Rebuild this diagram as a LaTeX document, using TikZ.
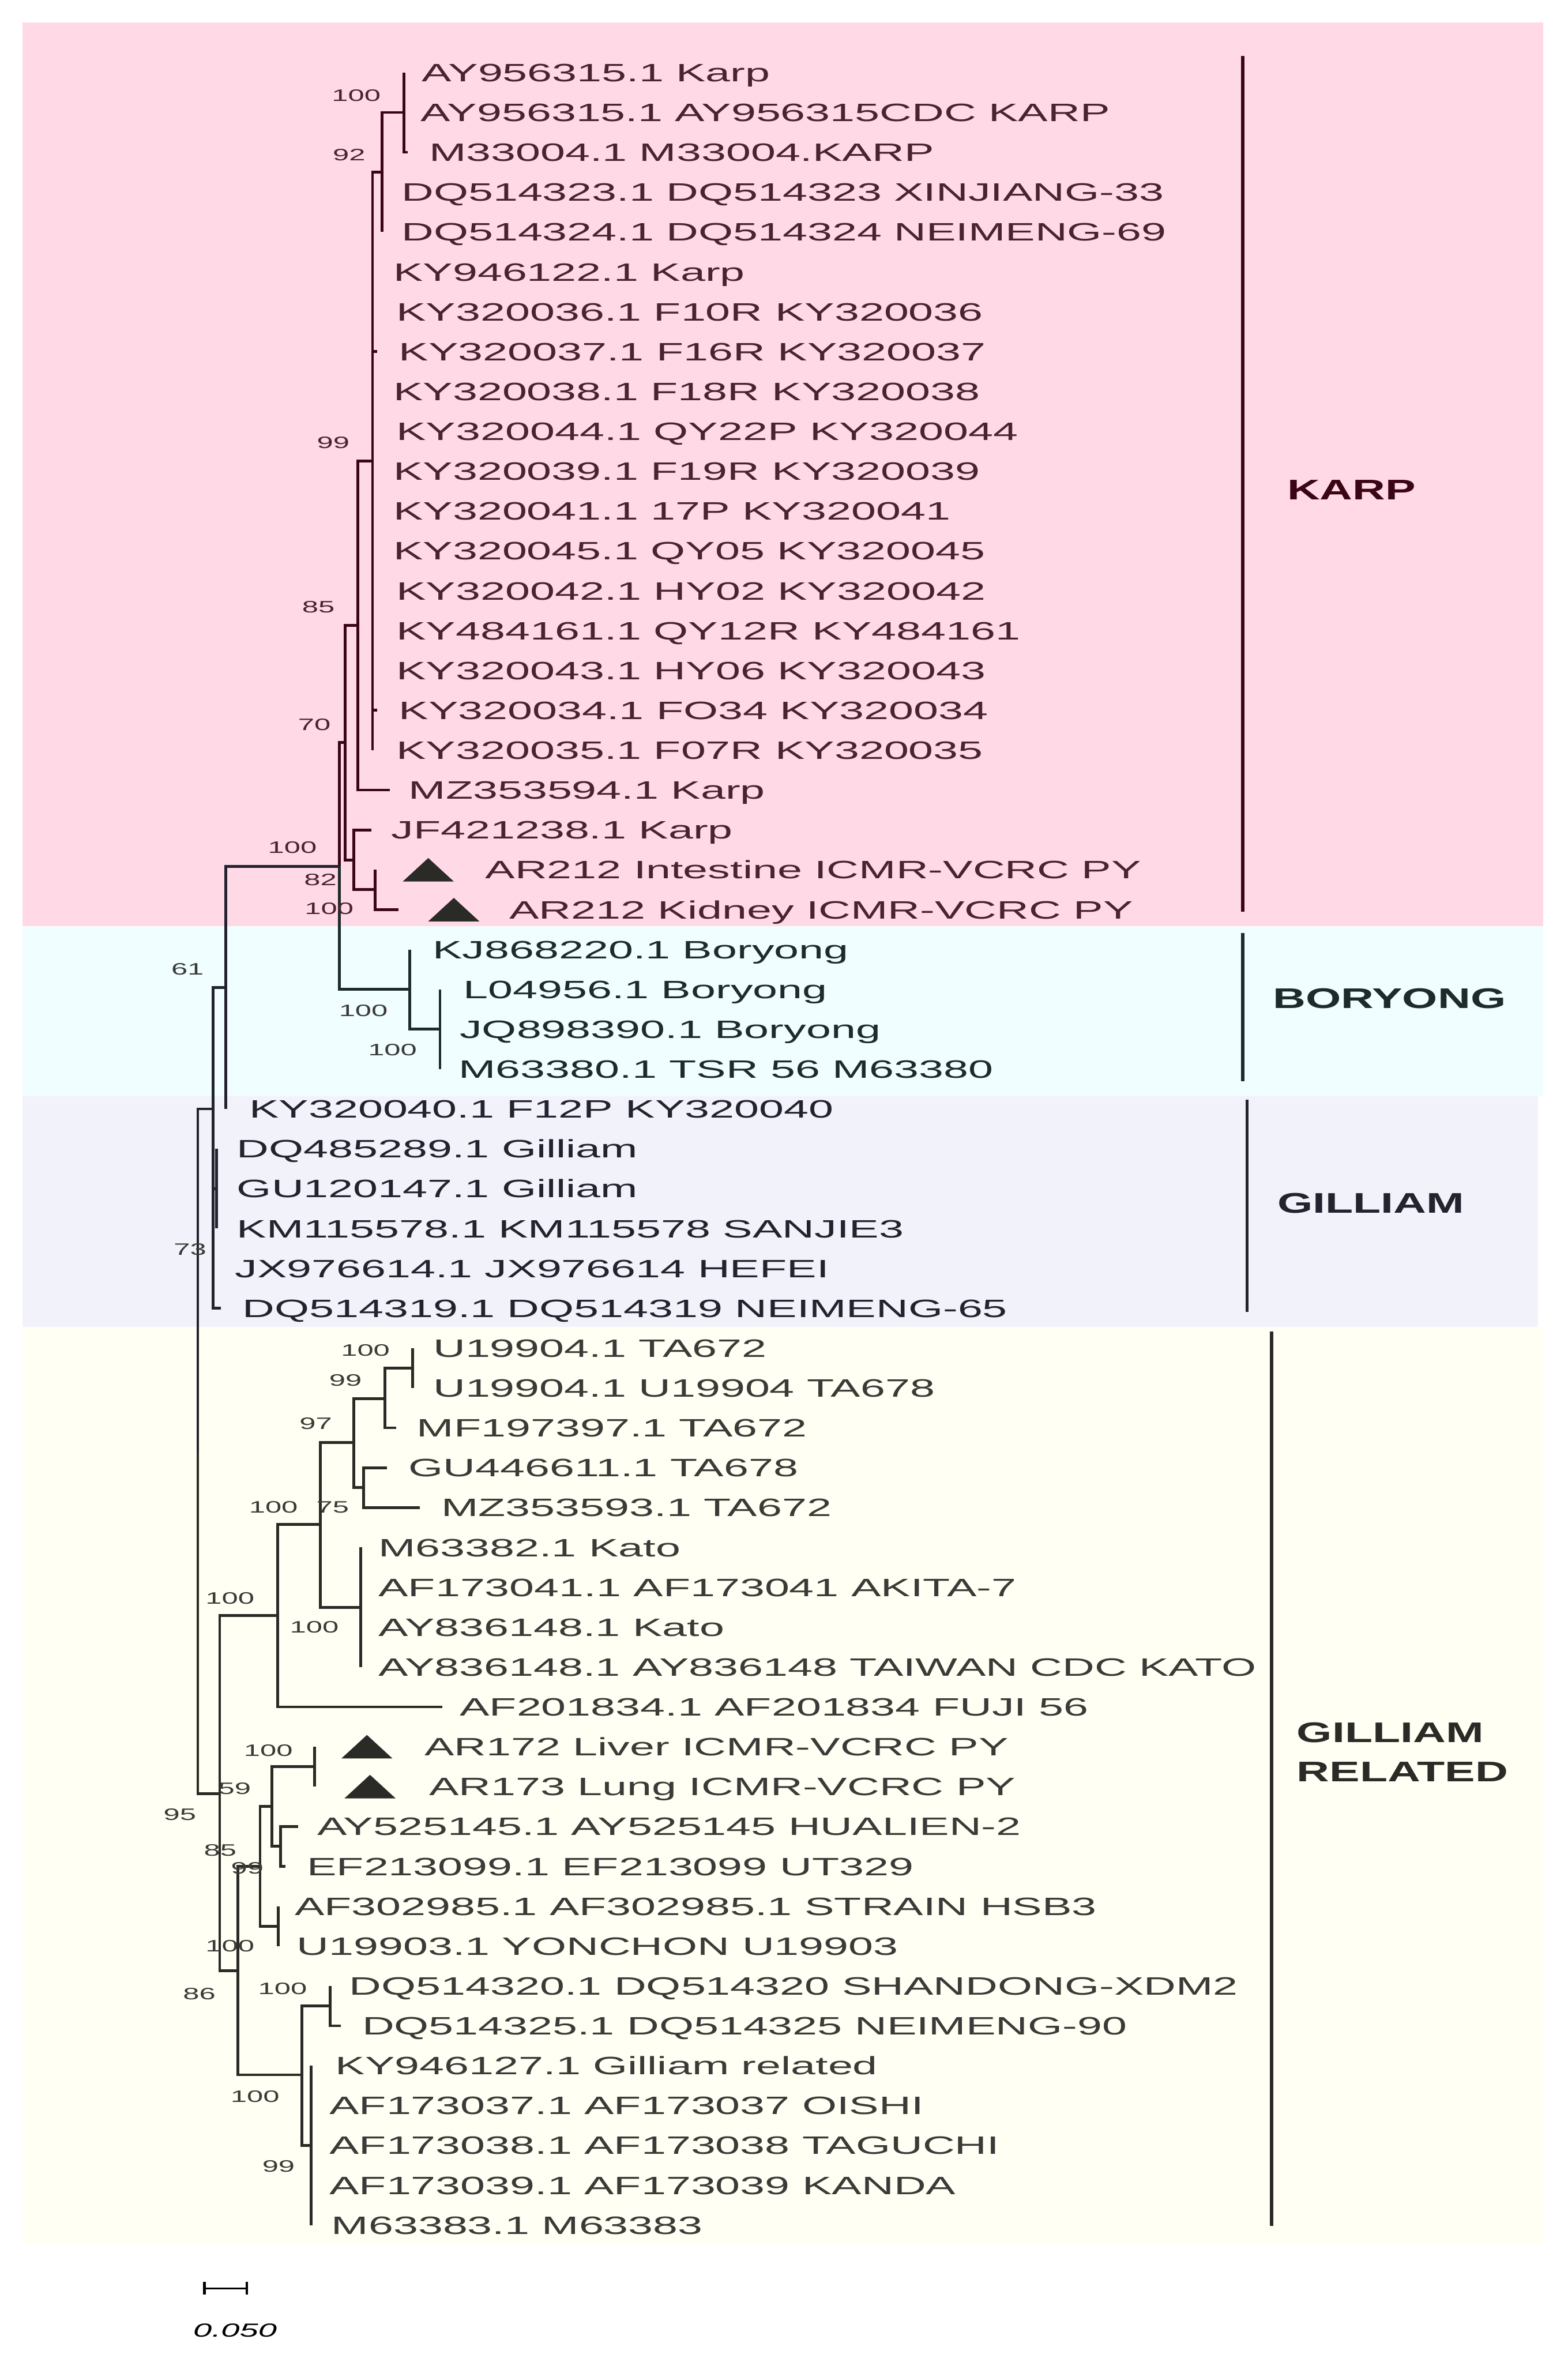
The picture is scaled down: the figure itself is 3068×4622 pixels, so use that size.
\documentclass[tikz,border=0pt]{standalone}
\usepackage{fontspec}
\setmainfont{Liberation Sans}
\newfontfamily\leaffont{Liberation Sans}[FakeStretch=1.77]
\newfontfamily\cladefont{Liberation Sans}[FakeStretch=1.6]
\usetikzlibrary{calc}
\definecolor{otPink}{HTML}{FFD9E6}
\definecolor{otAzure}{HTML}{F0FEFF}
\definecolor{otLav}{HTML}{F2F2FB}
\definecolor{otCream}{HTML}{FFFFF3}
\definecolor{otMaroon}{HTML}{3A0616}
\definecolor{otMaroonText}{HTML}{4A2230}
\definecolor{otSlate}{HTML}{1E2B2B}
\definecolor{otNavy}{HTML}{23232F}
\definecolor{otInk}{HTML}{2A2A26}
\definecolor{otGrayText}{HTML}{3A3A38}
\tikzset{
  ot branch/.style={line width=1.55pt},
  ot leaf/.style={anchor=west, inner sep=0pt, font=\leaffont\fontsize{14}{16}\selectfont, text height=10pt, text depth=0pt},
  ot boot/.style={inner sep=0pt, font=\leaffont\fontsize{9.2}{11}\selectfont, text height=6.6pt, text depth=0pt},
  ot bar/.style={line width=1.8pt},
  ot clade/.style={anchor=west, inner sep=0pt, align=left, font=\cladefont\bfseries\fontsize{15.8}{21.8}\selectfont},
}
% filled marker for the new isolates
\newcommand{\isomark}[2]{\fill[otInk] (#1-50,#2+23) -- (#1+50,#2+23) -- (#1,#2-23) -- cycle;}

\begin{document}
\begin{tikzpicture}[x=0.01cm,y=-0.01cm]
  \useasboundingbox (0,0) rectangle (3068,4622);
  % genotype bands
  \fill[otPink] (44,44) rectangle (3020,1812);
  \fill[otAzure] (44,1812) rectangle (3020,2145);
  \fill[otLav] (44,2145) rectangle (3010,2597);
  \fill[otCream] (44,2597) rectangle (3020,4390);

  % leaves: name/row/tip x/text x/label
  \foreach \n/\r/\tip/\tx/\lbl in {
    l1/1/790/825/{AY956315.1 Karp},
    l2/2/790/823/{AY956315.1 AY956315CDC KARP},
    l3/3/798/839/{M33004.1 M33004.KARP},
    l4/4/748/785/{DQ514323.1 DQ514323 XINJIANG-33},
    l5/5/748/785/{DQ514324.1 DQ514324 NEIMENG-69},
    l6/6/729/769/{KY946122.1 Karp},
    l7/7/729/775/{KY320036.1 F10R KY320036},
    l8/8/738/780/{KY320037.1 F16R KY320037},
    l9/9/729/769/{KY320038.1 F18R KY320038},
    l10/10/729/775/{KY320044.1 QY22P KY320044},
    l11/11/729/769/{KY320039.1 F19R KY320039},
    l12/12/729/769/{KY320041.1 17P KY320041},
    l13/13/729/769/{KY320045.1 QY05 KY320045},
    l14/14/729/775/{KY320042.1 HY02 KY320042},
    l15/15/729/775/{KY484161.1 QY12R KY484161},
    l16/16/729/775/{KY320043.1 HY06 KY320043},
    l17/17/738/780/{KY320034.1 FO34 KY320034},
    l18/18/729/775/{KY320035.1 F07R KY320035},
    l19/19/763/799/{MZ353594.1 Karp},
    l20/20/727/765/{JF421238.1 Karp},
    l21/21/734/949/{AR212 Intestine ICMR-VCRC PY},
    l22/22/780/996/{AR212 Kidney ICMR-VCRC PY}}
  {
    \pgfmathsetmacro{\yy}{142+78*(\r-1)}
    \coordinate (\n) at (\tip,\yy);
    \node[ot leaf, text=otMaroonText] (\n t) at (\tx,\yy) {\lbl};
  }
  \foreach \n/\r/\tip/\tx/\lbl in {
    l23/23/802/846/{KJ868220.1 Boryong},
    l24/24/861/906/{L04956.1 Boryong},
    l25/25/861/899/{JQ898390.1 Boryong},
    l26/26/861/897/{M63380.1 TSR 56 M63380}}
  {
    \pgfmathsetmacro{\yy}{142+78*(\r-1)}
    \coordinate (\n) at (\tip,\yy);
    \node[ot leaf, text=otSlate] (\n t) at (\tx,\yy) {\lbl};
  }
  \foreach \n/\r/\tip/\tx/\lbl in {
    l27/27/442/487/{KY320040.1 F12P KY320040},
    l28/28/424/463/{DQ485289.1 Gilliam},
    l29/29/424/463/{GU120147.1 Gilliam},
    l30/30/424/463/{KM115578.1 KM115578 SANJIE3},
    l31/31/417/459/{JX976614.1 JX976614 HEFEI},
    l32/32/432/474/{DQ514319.1 DQ514319 NEIMENG-65}}
  {
    \pgfmathsetmacro{\yy}{142+78*(\r-1)}
    \coordinate (\n) at (\tip,\yy);
    \node[ot leaf, text=otNavy] (\n t) at (\tx,\yy) {\lbl};
  }
  \foreach \n/\r/\tip/\tx/\lbl in {
    l33/33/807/847/{U19904.1 TA672},
    l34/34/807/847/{U19904.1 U19904 TA678},
    l35/35/775/815/{MF197397.1 TA672},
    l36/36/757/799/{GU446611.1 TA678},
    l37/37/822/863/{MZ353593.1 TA672},
    l38/38/706/740/{M63382.1 Kato},
    l39/39/706/740/{AF173041.1 AF173041 AKITA-7},
    l40/40/706/740/{AY836148.1 Kato},
    l41/41/706/740/{AY836148.1 AY836148 TAIWAN CDC KATO},
    l42/42/865/899/{AF201834.1 AF201834 FUJI 56},
    l43/43/616/830/{AR172 Liver ICMR-VCRC PY},
    l44/44/616/839/{AR173 Lung ICMR-VCRC PY},
    l45/45/583/620/{AY525145.1 AY525145 HUALIEN-2},
    l46/46/558/600/{EF213099.1 EF213099 UT329},
    l47/47/544/576/{AF302985.1 AF302985.1 STRAIN HSB3},
    l48/48/544/580/{U19903.1 YONCHON U19903},
    l49/49/646/683/{DQ514320.1 DQ514320 SHANDONG-XDM2},
    l50/50/667/708/{DQ514325.1 DQ514325 NEIMENG-90},
    l51/51/609/656/{KY946127.1 Gilliam related},
    l52/52/609/644/{AF173037.1 AF173037 OISHI},
    l53/53/609/644/{AF173038.1 AF173038 TAGUCHI},
    l54/54/609/644/{AF173039.1 AF173039 KANDA},
    l55/55/609/648/{M63383.1 M63383}}
  {
    \pgfmathsetmacro{\yy}{142+78*(\r-1)}
    \coordinate (\n) at (\tip,\yy);
    \node[ot leaf, text=otGrayText] (\n t) at (\tx,\yy) {\lbl};
  }

  % markers for AR212 / AR172 / AR173
  \isomark{838}{1702}
  \isomark{888}{1780}
  \isomark{718}{3418}
  \isomark{724}{3496}

  % internal nodes
  \coordinate (nKa) at (790,220);
  \coordinate (nKb) at (748,337);
  \coordinate (nKc) at (729,902);
  \coordinate (nKd) at (700,1224);
  \coordinate (nKe) at (734,1741);
  \coordinate (nKf) at (692,1683);
  \coordinate (nKg) at (675,1453);
  \coordinate (nBa) at (861,2014);
  \coordinate (nBb) at (802,1936);
  \coordinate (nBc) at (664,1695);
  \coordinate (nGa) at (442,1932);
  \coordinate (nGb) at (424,2326);
  \coordinate (nGc) at (417,2170);
  \coordinate (nRoot) at (387,2840);
  \coordinate (nRa) at (807,2677);
  \coordinate (nRb) at (753,2737);
  \coordinate (nRc) at (711,2911);
  \coordinate (nRd) at (692,2823);
  \coordinate (nRe) at (706,3145);
  \coordinate (nRf) at (627,2983);
  \coordinate (nRg) at (543,3161);
  \coordinate (nRh) at (430,3510);
  \coordinate (nRi) at (616,3457);
  \coordinate (nRj) at (549,3613);
  \coordinate (nRk) at (532,3535);
  \coordinate (nRl) at (544,3769);
  \coordinate (nRm) at (509,3652);
  \coordinate (nRn) at (646,3925);
  \coordinate (nRo) at (609,4198);
  \coordinate (nRp) at (591,4060);
  \coordinate (nRq) at (465,3856);

  % Karp branches
  \foreach \p/\c in {nKa/l1, nKa/l2, nKa/l3, nKb/nKa, nKb/l4, nKb/l5,
      nKc/nKb, nKc/l6, nKc/l7, nKc/l8, nKc/l9, nKc/l10, nKc/l11, nKc/l12,
      nKc/l13, nKc/l14, nKc/l15, nKc/l16, nKc/l17, nKc/l18,
      nKd/nKc, nKd/l19, nKe/l21, nKe/l22, nKf/l20, nKf/nKe,
      nKg/nKd, nKg/nKf, nBc/nKg}
    \draw[ot branch, otMaroon] (\p) |- (\c);
  % Boryong branches
  \foreach \p/\c in {nBa/l24, nBa/l25, nBa/l26, nBb/l23, nBb/nBa, nBc/nBb}
    \draw[ot branch, otSlate] (\p) |- (\c);
  % Gilliam branches
  \foreach \p/\c in {nGa/nBc, nGa/l27, nGb/l28, nGb/l29, nGb/l30,
      nGc/nGa, nGc/nGb, nGc/l31, nGc/l32, nRoot/nGc}
    \draw[ot branch, otNavy] (\p) |- (\c);
  % Gilliam related branches
  \foreach \p/\c in {nRoot/nRh, nRa/l33, nRa/l34, nRb/nRa, nRb/l35,
      nRc/l36, nRc/l37, nRd/nRb, nRd/nRc, nRe/l38, nRe/l39, nRe/l40, nRe/l41,
      nRf/nRd, nRf/nRe, nRg/nRf, nRg/l42, nRh/nRg, nRh/nRq,
      nRi/l43, nRi/l44, nRj/l45, nRj/l46, nRk/nRi, nRk/nRj,
      nRl/l47, nRl/l48, nRm/nRk, nRm/nRl, nRn/l49, nRn/l50,
      nRo/l51, nRo/l52, nRo/l53, nRo/l54, nRo/l55,
      nRp/nRn, nRp/nRo, nRq/nRm, nRq/nRp}
    \draw[ot branch, otInk] (\p) |- (\c);

  % bootstrap values
  \foreach \x/\y/\v [count=\i] in {697/186/100, 683/303/92, 652/866/99,
      623/1187/85, 615/1417/70, 572/1658/100, 627/1721/82, 644/1778/100}
    \node[ot boot, text=otMaroonText] (bk\i) at (\x,\y) {\v};
  \foreach \x/\y/\v [count=\i] in {367/1896/61, 711/1977/100, 768/2054/100,
      372/2444/73, 715/2642/100, 676/2700/99, 618/2785/97, 535/2949/100,
      651/2949/75, 450/3127/100, 615/3184/100, 525/3425/100, 459/3499/59,
      352/3550/95, 431/3620/85, 484/3655/99, 450/3808/100, 390/3901/86,
      553/3891/100, 499/4102/100, 545/4239/99}
    \node[ot boot, text=otGrayText] (bo\i) at (\x,\y) {\v};

  % genotype bars and names
  \coordinate (karpTop) at (2432,110);
  \coordinate (karpBot) at (2432,1784);
  \draw[ot bar, otMaroon] (karpTop) -- (karpBot);
  \node[ot clade, text=otMaroon] (karp) at (2518,959) {KARP};
  \coordinate (boryTop) at (2432,1826);
  \coordinate (boryBot) at (2432,2116);
  \draw[ot bar, otSlate] (boryTop) -- (boryBot);
  \node[ot clade, text=otSlate] (bory) at (2490,1954) {BORYONG};
  \coordinate (gillTop) at (2440,2152);
  \coordinate (gillBot) at (2440,2567);
  \draw[ot bar, otNavy] (gillTop) -- (gillBot);
  \node[ot clade, text=otNavy] (gill) at (2499,2355) {GILLIAM};
  \coordinate (relTop) at (2488,2605);
  \coordinate (relBot) at (2488,4356);
  \draw[ot bar, otInk] (relTop) -- (relBot);
  \node[ot clade, text=otInk] (rel) at (2537,3428) {GILLIAM\\RELATED};

  % scale bar
  \coordinate (sbL) at (400,4478);
  \coordinate (sbR) at (483,4478);
  \draw[line width=0.9pt] (sbL) -- (sbR);
  \draw[line width=1.3pt] ($(sbL)+(0,-13)$) -- ($(sbL)+(0,12)$);
  \draw[line width=1.3pt] ($(sbR)+(0,-13)$) -- ($(sbR)+(0,12)$);
  \node[inner sep=0pt, font=\leaffont\itshape\fontsize{10.5}{12}\selectfont] (sbTxt) at (460,4560) {0.050};
\end{tikzpicture}
\end{document}
